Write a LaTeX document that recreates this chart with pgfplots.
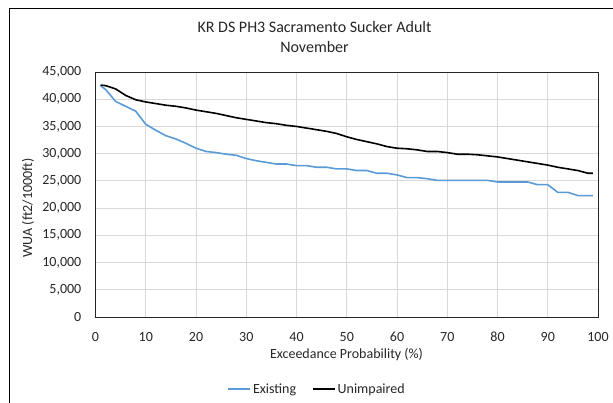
\documentclass[border=0pt]{standalone}
\usepackage{pgfplots}
\pgfplotsset{compat=1.18}
\usepackage{fontspec}
\setmainfont{Carlito}
\definecolor{exblue}{HTML}{5B9BD5}
\definecolor{txt}{HTML}{262626}
\definecolor{gridc}{HTML}{D9D9D9}
\begin{document}
\begin{tikzpicture}[x=1pt,y=1pt]
\useasboundingbox (0,0) rectangle (613,403);
\draw[black,line width=0.8pt] (9,-10) -- (9,395) -- (625,395);
\begin{axis}[
  at={(95.5pt,86pt)}, anchor=south west,
  scale only axis, width=502.5pt, height=245pt,
  xmin=0, xmax=100, ymin=0, ymax=45000,
  xtick={0,10,...,100}, ytick={0,5000,...,45000},
  grid=major, major grid style={gridc, line width=0.8pt},
  axis line style={black!85, line width=0.9pt},
  major tick length=0pt,
  scaled y ticks=false,
  /pgf/number format/.cd, 1000 sep={,}, assume math mode=true,
  /pgfplots/.cd,
  ticklabel style={font=\fontsize{14}{16}\selectfont, text=txt, inner sep=0pt},
  yticklabel style={anchor=east, xshift=-14pt},
  xticklabel style={anchor=north, yshift=-15pt},
  legend columns=2,
  legend style={at={(0.441,-0.294)}, anchor=center, draw=none, fill=none,
    font=\fontsize{14}{16}\selectfont, text=txt,
    /tikz/every even column/.append style={column sep=14pt}},
  legend image code/.code={\draw[#1, line width=1.5pt] (0pt,0pt) -- (22pt,0pt);},
  clip=false,
]
\addplot[exblue, line width=1.6pt] coordinates {
(1,42500) (2,41800) (4,39600) (6,38700) (8,37800) (10,35400) (12,34300) (14,33300)
(16,32700) (18,31900) (20,31000) (22,30400) (24,30200) (26,29900) (28,29700) (30,29100)
(32,28700) (34,28400) (36,28100) (38,28100) (40,27800) (42,27800) (44,27500) (46,27500)
(48,27200) (50,27200) (52,26900) (54,26900) (56,26400) (58,26400) (60,26100) (62,25600)
(64,25600) (66,25400) (68,25100) (70,25100) (72,25100) (74,25100) (76,25100) (78,25100)
(80,24800) (82,24800) (84,24800) (86,24800) (88,24300) (90,24300) (92,22900) (94,22900)
(96,22300) (98,22300) (99,22300)
};
\addlegendentry{Existing}
\addplot[black, line width=1.6pt] coordinates {
(1,42600) (2,42500) (4,41900) (6,40700) (8,39900) (10,39500) (12,39200) (14,38900)
(16,38700) (18,38400) (20,38000) (22,37700) (24,37400) (26,37000) (28,36600) (30,36300)
(32,36000) (34,35700) (36,35500) (38,35200) (40,35000) (42,34700) (44,34400) (46,34100)
(48,33700) (50,33100) (52,32600) (54,32200) (56,31800) (58,31300) (60,31000) (62,30900)
(64,30700) (66,30400) (68,30400) (70,30200) (72,29900) (74,29900) (76,29800) (78,29600)
(80,29400) (82,29100) (84,28800) (86,28500) (88,28200) (90,27900) (92,27500) (94,27200)
(96,26900) (98,26400) (99,26400)
};
\addlegendentry{Unimpaired}
\end{axis}
\node[anchor=base, font=\fontsize{16}{18}\selectfont, text=txt] at (314.5,370) {KR DS PH3 Sacramento Sucker Adult};
\node[anchor=base, font=\fontsize{16}{18}\selectfont, text=txt] at (314.5,350) {November};
\node[anchor=base, font=\fontsize{14}{16}\selectfont, text=txt] at (346.5,44) {Exceedance Probability (\%)};
\node[rotate=90, font=\fontsize{14}{16}\selectfont, text=txt] at (28,195) {WUA (ft2/1000ft)};
\end{tikzpicture}
\end{document}
